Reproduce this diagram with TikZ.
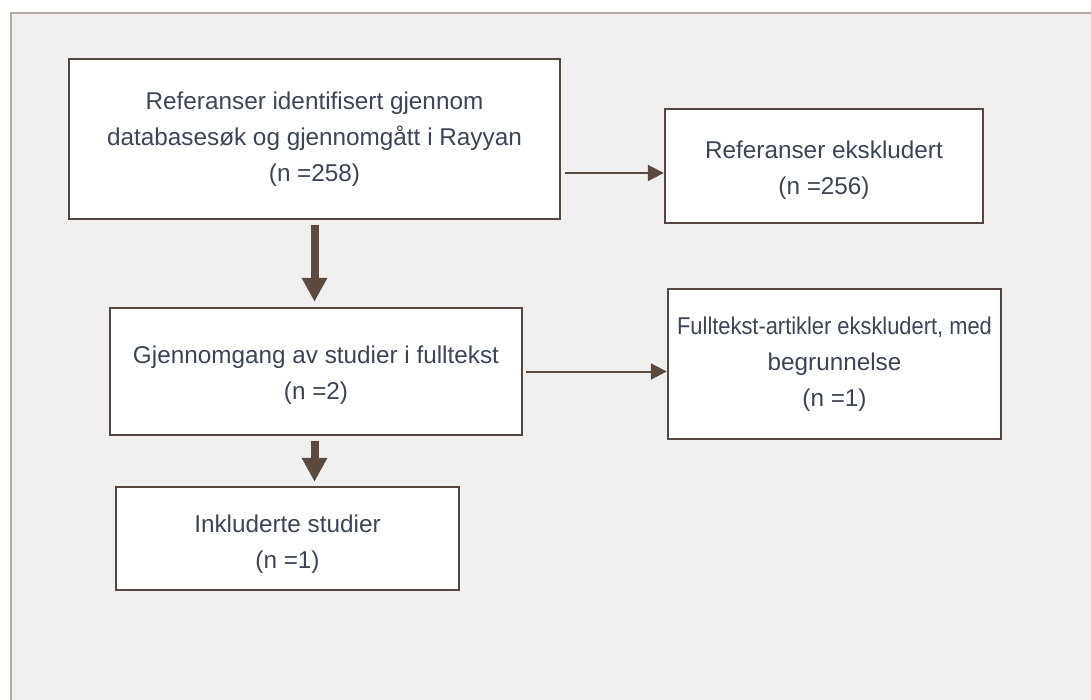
\documentclass[tikz,border=0pt]{standalone}
\usepackage{fontspec}
\setmainfont{Liberation Sans}
\usetikzlibrary{arrows.meta}
\definecolor{framecol}{HTML}{B9A99C}
\definecolor{bgcol}{HTML}{F0F0F0}
\definecolor{boxline}{HTML}{554740}
\definecolor{arrcol}{HTML}{5A4A40}
\definecolor{txtcol}{HTML}{3C4555}
\newcommand{\dropstrut}[1]{\rule{0pt}{#1}}
\tikzset{
  x=1pt, y=-1pt,
  flowbox/.style={draw=boxline, line width=2.4pt, fill=white, align=center,
    text=txtcol, font=\fontsize{24.3}{36}\selectfont, inner sep=0pt},
  thinarr/.style={draw=arrcol, line width=2pt, -{Triangle[length=16pt,width=16pt]}},
  thickarr/.style={draw=arrcol, line width=8pt, -{Triangle[length=24pt,width=24pt]}}
}
\begin{document}
\begin{tikzpicture}
\useasboundingbox (0,0) rectangle (1091,699);
\fill[white] (0,0) rectangle (1091,699);
\draw[framecol, line width=2pt, fill=bgcol] (11,13) rectangle (1110,720);

\node[flowbox, minimum width=491pt, minimum height=160pt] (a) at (314.5,139)
  {Referanser identifisert gjennom\\databasesøk og gjennomgått i Rayyan\\(n =258)};
\node[flowbox, minimum width=318pt, minimum height=114pt] (b) at (824,166)
  {\dropstrut{26pt}Referanser ekskludert\\(n =256)};
\node[flowbox, minimum width=412pt, minimum height=127pt] (c) at (316,371.5)
  {\dropstrut{26pt}Gjennomgang av studier i fulltekst\\(n =2)};
\node[flowbox, minimum width=333pt, minimum height=150pt] (d) at (834.5,364)
  {\scalebox{0.9}[1]{Fulltekst-artikler ekskludert, med}\\begrunnelse\\(n =1)};
\node[flowbox, minimum width=343pt, minimum height=103pt] (e) at (287.5,538.5)
  {\dropstrut{30pt}Inkluderte studier\\(n =1)};

\draw[thinarr] ([xshift=4pt,yshift=-34pt]a.east) -- ([yshift=-34pt]a.east -| b.west);
\draw[thinarr] ([xshift=3pt]c.east) -- (c.east -| d.west);
\draw[thickarr] ([yshift=-5pt]a.south) -- ([yshift=5pt]a.south |- c.north);
\draw[thickarr] ([yshift=-5pt]a.south |- c.south) -- ([yshift=4pt]a.south |- e.north);
\end{tikzpicture}
\end{document}
